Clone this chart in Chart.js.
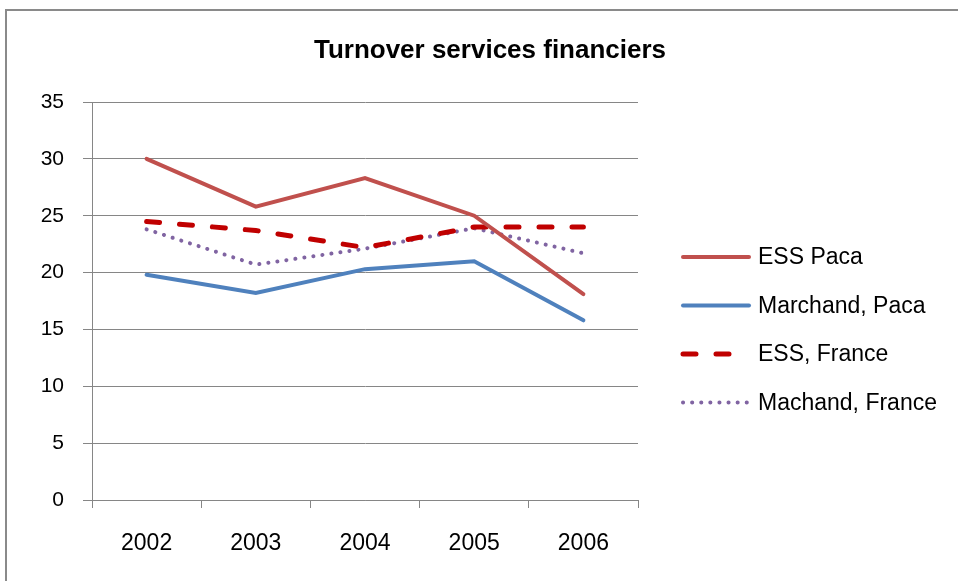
<!DOCTYPE html>
<html>
<head>
<meta charset="utf-8">
<title>Turnover services financiers</title>
<script src="https://cdn.jsdelivr.net/npm/chart.js@4.4.1/dist/chart.umd.min.js"></script>
<style>
    body { margin: 0; background: #fff; }
    #wrap { position: relative; width: 958px; height: 581px; }
    #frame {
        position: absolute; left: 5px; top: 9px; right: -10px; bottom: -10px;
        border-left: 2px solid #8a8a8a; border-top: 2px solid #8a8a8a;
    }
    canvas { position: absolute; left: 0; top: 0; }
</style>
</head>
<body>
<div id="wrap">
    <div id="frame"></div>
    <canvas id="chart" width="958" height="581"></canvas>
</div>
<script>
const title = "Turnover services financiers";
const years = ["2002", "2003", "2004", "2005", "2006"];
const yTicks = [0, 5, 10, 15, 20, 25, 30, 35];

const essPaca = [30, 25.8, 28.3, 25.0, 18.1];
const marchandPaca = [19.8, 18.2, 20.3, 21.0, 15.8];
const essFrance = [24.5, 23.7, 22.2, 24.0, 24.0];
const machandFrance = [23.8, 20.7, 22.1, 23.9, 21.7];

const font = "'Liberation Sans', Arial, sans-serif";

// title + legend drawn by hand so they sit where the reference has them
const decorPlugin = {
    id: "decor",
    afterDraw(chart) {
        const ctx = chart.ctx;
        ctx.save();
        ctx.fillStyle = "#000";
        ctx.font = "bold 26px " + font;
        ctx.textAlign = "center";
        ctx.textBaseline = "middle";
        ctx.fillText(title, 490, 51);

        ctx.font = "23px " + font;
        ctx.textAlign = "left";
        chart.data.datasets.forEach((ds, i) => {
            const y = 257 + i * 48.5;
            const dash = ds.borderDash || [];
            // dashed sample only has room for two dashes in the reference
            const end = dash.length && dash[0] > 1 ? 733 : 749;
            ctx.beginPath();
            ctx.strokeStyle = ds.borderColor;
            ctx.lineWidth = ds.borderWidth;
            ctx.lineCap = ds.borderCapStyle || "butt";
            ctx.setLineDash(dash);
            ctx.moveTo(683, y);
            ctx.lineTo(end, y);
            ctx.stroke();
            ctx.setLineDash([]);
            ctx.fillText(ds.label, 758, y + 1);
        });
        ctx.restore();
    }
};

new Chart(document.getElementById("chart"), {
    type: "line",
    data: {
        labels: years,
        datasets: [
            {
                label: "ESS Paca",
                data: essPaca,
                borderColor: "#C0504D",
                borderWidth: 4,
                borderCapStyle: "round"
            },
            {
                label: "Marchand, Paca",
                data: marchandPaca,
                borderColor: "#4F81BD",
                borderWidth: 4,
                borderCapStyle: "round"
            },
            {
                label: "ESS, France",
                data: essFrance,
                borderColor: "#C00000",
                borderWidth: 5,
                borderDash: [13, 20],
                borderCapStyle: "round"
            },
            {
                label: "Machand, France",
                data: machandFrance,
                borderColor: "#8064A2",
                borderWidth: 4,
                borderDash: [0.1, 9],
                borderCapStyle: "round"
            }
        ]
    },
    options: {
        responsive: false,
        animation: false,
        layout: { padding: { left: 0, top: 102, right: 320, bottom: 0 } },
        elements: {
            line: { tension: 0, fill: false },
            point: { radius: 0 }
        },
        plugins: {
            legend: { display: false },
            title: { display: false },
            tooltip: { enabled: false }
        },
        scales: {
            x: {
                offset: true,
                afterFit: (scale) => { scale.height = 81; },
                grid: {
                    offset: true,
                    drawOnChartArea: false,
                    tickLength: 8,
                    color: "#868686"
                },
                border: { color: "#868686", width: 1 },
                ticks: {
                    padding: 22,
                    color: "#000",
                    font: { family: font, size: 23 }
                }
            },
            y: {
                min: 0,
                max: 35,
                afterFit: (scale) => { scale.width = 92; },
                afterBuildTicks: (scale) => {
                    scale.ticks = yTicks.map(v => ({ value: v }));
                },
                grid: {
                    tickLength: 9,
                    color: "#868686"
                },
                border: { color: "#868686", width: 1 },
                ticks: {
                    padding: 19,
                    color: "#000",
                    font: { family: font, size: 21 }
                }
            }
        }
    },
    plugins: [decorPlugin]
});
</script>
</body>
</html>
